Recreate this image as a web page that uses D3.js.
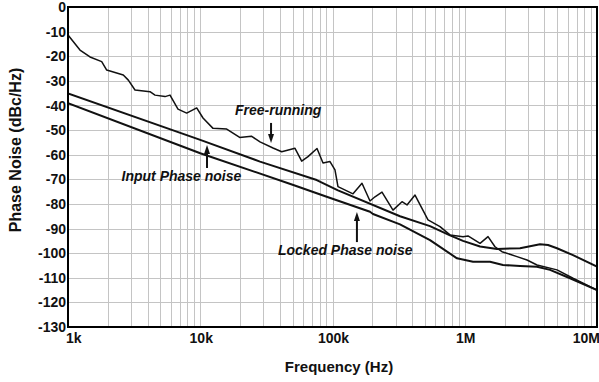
<!DOCTYPE html>
<html>
<head>
<meta charset="utf-8">
<script src="https://cdnjs.cloudflare.com/ajax/libs/d3/7.8.5/d3.min.js"></script>
<style>
body{margin:0;background:#fff;}
text{font-family:"Liberation Sans",Arial,sans-serif;font-weight:bold;fill:#111;}
</style>
</head>
<body>
<script>

// free-running oscillator (Hz, dBc/Hz)
var freeFreq = [1000,1232,1467,1798,1962,2619,2858,3211,4169,4549,5415,5906,6787,7898,9401,10490,12490,15850,19870,24350,28300,35490,41290,52050,58500,65270,76360,84770,95740,104400,110000,142900,167100,192100,209600,236700,286700,335400,365900,420700,527400,650000,773600,970000,1058000,1305000,1500000,1693000,1912000,2484000,2956000,3518000,4983000,6585000,10000000];
var freeDb = [-11.4,-17.5,-20.3,-22.2,-25.6,-27.6,-29.7,-33.7,-34.4,-35.8,-36.4,-35.8,-41.5,-43.1,-41,-45.1,-49.3,-49.6,-53,-52.5,-54.8,-57.3,-58.8,-57.4,-62.6,-60.8,-57.5,-63.4,-62.8,-66.2,-73,-75.9,-71.6,-78.8,-77.1,-75.2,-82.5,-79.1,-80.4,-76.4,-86.5,-89.2,-92.6,-93.3,-93,-96,-93.3,-97.4,-99.4,-101.4,-102.8,-104.8,-106.8,-110.2,-115];

// input (reference) phase noise
var inputFreq = [1000,10000,28300,75960,110000,323900,546000,773600,970000,1305000,1753000,2617000,3707000,4261000,4983000,6585000,10000000];
var inputDb = [-35.1,-54,-62.8,-70.3,-74.5,-85,-89,-92.8,-95,-97.3,-98.3,-98,-96.4,-96.7,-98,-100.8,-105.5];

// locked phase noise
var lockedFreq = [1000,10000,50540,90400,192100,202400,323900,546000,873800,1155000,1552000,1946000,2617000,3518000,4413000,6249000,10000000];
var lockedDb = [-39.1,-59.4,-72.3,-77.1,-83.2,-84.1,-88.3,-94.7,-102.1,-103.5,-103.5,-104.8,-105.2,-105.5,-106.8,-110.2,-115];

var xTickValues = [1e3,1e4,1e5,1e6,1e7];
var xTickLabels = ["1k","10k","100k","1M","10M"];
var yTickValues = [0,-10,-20,-30,-40,-50,-60,-70,-80,-90,-100,-110,-120,-130];

// annotations, placed in data units
var noteText = ["Free-running","Input Phase noise","Locked Phase noise"];
var noteFreq = [18300,2540,38700];
var noteDb = [-43.9,-70.7,-100.8];
var arrowFreq = [34300,11250,153000];
var arrowFrom = [-47.1,-65.4,-95.5];
var arrowTo = [-55.3,-56.1,-83.3];

var width = 599, height = 382;
var margin = {top:7, right:2, bottom:55, left:68};

var svg = d3.select("body").append("svg")
	.attr("width", width)
	.attr("height", height);

var x = d3.scaleLog().domain([1e3,1e7]).range([margin.left, width-margin.right]);
var y = d3.scaleLinear().domain([-130,0]).range([height-margin.bottom, margin.top]);

// grid
svg.append("g").selectAll("line")
	.data(x.ticks())
	.enter().append("line")
	.attr("x1", function(d){return Math.round(x(d))+0.5;})
	.attr("x2", function(d){return Math.round(x(d))+0.5;})
	.attr("y1", y(0)).attr("y2", y(-130))
	.attr("stroke","#c4c4c4").attr("stroke-width",1);

svg.append("g").selectAll("line")
	.data(yTickValues)
	.enter().append("line")
	.attr("x1", x(1e3)).attr("x2", x(1e7))
	.attr("y1", function(d){return Math.round(y(d))+0.5;})
	.attr("y2", function(d){return Math.round(y(d))+0.5;})
	.attr("stroke","#c4c4c4").attr("stroke-width",1);

svg.append("clipPath").attr("id","plot")
	.append("rect")
	.attr("x", x(1e3)).attr("y", y(0))
	.attr("width", x(1e7)-x(1e3)).attr("height", y(-130)-y(0));

var line = d3.line()
	.x(function(d){return x(d[0]);})
	.y(function(d){return y(d[1]);});

function pairs(fr, db){
	return fr.map(function(f,i){return [f, db[i]];});
}

var curves = [
	{pts: pairs(freeFreq, freeDb), w: 1.5},
	{pts: pairs(inputFreq, inputDb), w: 2},
	{pts: pairs(lockedFreq, lockedDb), w: 2}
];

svg.append("g").attr("clip-path","url(#plot)")
	.selectAll("path")
	.data(curves)
	.enter().append("path")
	.attr("d", function(d){return line(d.pts);})
	.attr("fill","none")
	.attr("stroke","#111")
	.attr("stroke-width", function(d){return d.w;})
	.attr("stroke-linejoin","round");

// frame
svg.append("rect")
	.attr("x", x(1e3)).attr("y", y(0))
	.attr("width", x(1e7)-x(1e3)).attr("height", y(-130)-y(0))
	.attr("fill","none").attr("stroke","#000").attr("stroke-width",2);

// y tick labels
svg.append("g").selectAll("text")
	.data(yTickValues)
	.enter().append("text")
	.attr("x", x(1e3)-2)
	.attr("y", function(d){return y(d);})
	.attr("dy","0.36em")
	.attr("text-anchor","end")
	.style("font-size","14px")
	.text(function(d){return d;});

// x tick labels
svg.append("g").selectAll("text")
	.data(xTickValues)
	.enter().append("text")
	.attr("x", function(d,i){
		if (i == 0) return x(d)-2;
		if (i == xTickValues.length-1) return x(d)+3;
		return x(d)+1;
	})
	.attr("y", y(-130)+16)
	.attr("text-anchor", function(d,i){
		if (i == 0) return "start";
		if (i == xTickValues.length-1) return "end";
		return "middle";
	})
	.style("font-size","14px")
	.text(function(d,i){return xTickLabels[i];});

svg.append("text")
	.attr("x", 339).attr("y", 372)
	.attr("text-anchor","middle")
	.style("font-size","15px")
	.text("Frequency (Hz)");

svg.append("text")
	.attr("transform","translate(21,150) rotate(-90)")
	.attr("text-anchor","middle")
	.style("font-size","16px")
	.text("Phase Noise (dBc/Hz)");

// annotations
svg.append("g").selectAll("text")
	.data(noteText)
	.enter().append("text")
	.attr("x", function(d,i){return x(noteFreq[i]);})
	.attr("y", function(d,i){return y(noteDb[i]);})
	.style("font-size","14px")
	.style("font-style","italic")
	.text(function(d){return d;});

var arrows = svg.append("g").selectAll("g")
	.data(arrowFreq)
	.enter().append("g");

arrows.append("line")
	.attr("x1", function(d){return x(d);})
	.attr("x2", function(d){return x(d);})
	.attr("y1", function(d,i){return y(arrowFrom[i]);})
	.attr("y2", function(d,i){
		var t = y(arrowTo[i]), f = y(arrowFrom[i]);
		return t + (f > t ? 6 : -6);
	})
	.attr("stroke","#111").attr("stroke-width",2);

arrows.append("path")
	.attr("d", function(d,i){
		var ax = x(d), t = y(arrowTo[i]), f = y(arrowFrom[i]);
		var s = f > t ? 1 : -1;
		return "M"+ax+","+t+"L"+(ax-3)+","+(t+s*9)+"L"+(ax+3)+","+(t+s*9)+"Z";
	})
	.attr("fill","#111");

</script>
</body>
</html>
